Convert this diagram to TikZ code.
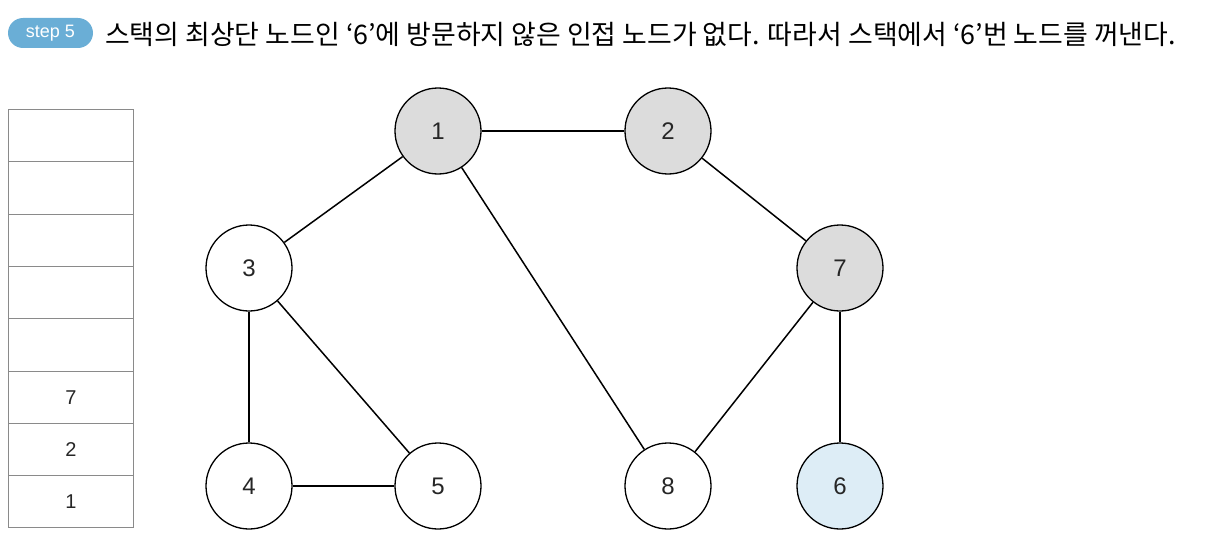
\documentclass[tikz,border=0pt]{standalone}
\usepackage{fontspec}
\setmainfont{Liberation Sans}
\newfontfamily\kr{Noto Sans CJK KR}
\definecolor{visited}{HTML}{DCDCDC}
\definecolor{current}{HTML}{DDEDF6}
\definecolor{badge}{HTML}{6AAED6}
\definecolor{stackline}{HTML}{8A8A8A}
\begin{document}
\begin{tikzpicture}[x=1pt,y=-1pt,
  vert/.style={circle,draw=black,line width=1.3pt,minimum size=86pt,inner sep=0pt,font=\fontsize{24}{24}\selectfont,text=black!85},
  edge/.style={line width=1.5pt,black},
  cell/.style={draw=stackline,line width=1pt,minimum width=125pt,minimum height=52.3pt,inner sep=0pt,anchor=north west,font=\fontsize{20}{20}\selectfont,text=black!85}]
\useasboundingbox (0,0) rectangle (1221,535);
% badge
\node[fill=badge,rounded corners=15pt,minimum width=85pt,minimum height=30pt,inner sep=0pt,text=white,font=\fontsize{18}{18}\selectfont] (badge) at (50.5,33) {step 5};
\node[anchor=west,inner sep=0pt,font=\kr\fontsize{26.9}{27}\selectfont] (title) at (105,34) {스택의 최상단 노드인 ‘6’에 방문하지 않은 인접 노드가 없다. 따라서 스택에서 ‘6’번 노드를 꺼낸다.};
% stack
\node[cell] (s8) at (8,109) {};
\node[cell] (s7) at (8,161.3) {};
\node[cell] (s6) at (8,213.6) {};
\node[cell] (s5) at (8,265.9) {};
\node[cell] (s4) at (8,318.2) {};
\node[cell] (s3) at (8,370.5) {7};
\node[cell] (s2) at (8,422.8) {2};
\node[cell] (s1) at (8,475.1) {1};
% graph
\node[vert,fill=visited] (n1) at (438,131) {1};
\node[vert,fill=visited] (n2) at (668,131) {2};
\node[vert,fill=white] (n3) at (249,268) {3};
\node[vert,fill=visited] (n7) at (840,268) {7};
\node[vert,fill=white] (n4) at (249,486) {4};
\node[vert,fill=white] (n5) at (438,486) {5};
\node[vert,fill=white] (n8) at (668,486) {8};
\node[vert,fill=current] (n6) at (840,486) {6};
\draw[edge] (n1) -- (n2);
\draw[edge] (n1) -- (n3);
\draw[edge] (n1) -- (n8);
\draw[edge] (n2) -- (n7);
\draw[edge] (n3) -- (n4);
\draw[edge] (n3) -- (n5);
\draw[edge] (n4) -- (n5);
\draw[edge] (n7) -- (n8);
\draw[edge] (n7) -- (n6);
\end{tikzpicture}
\end{document}
